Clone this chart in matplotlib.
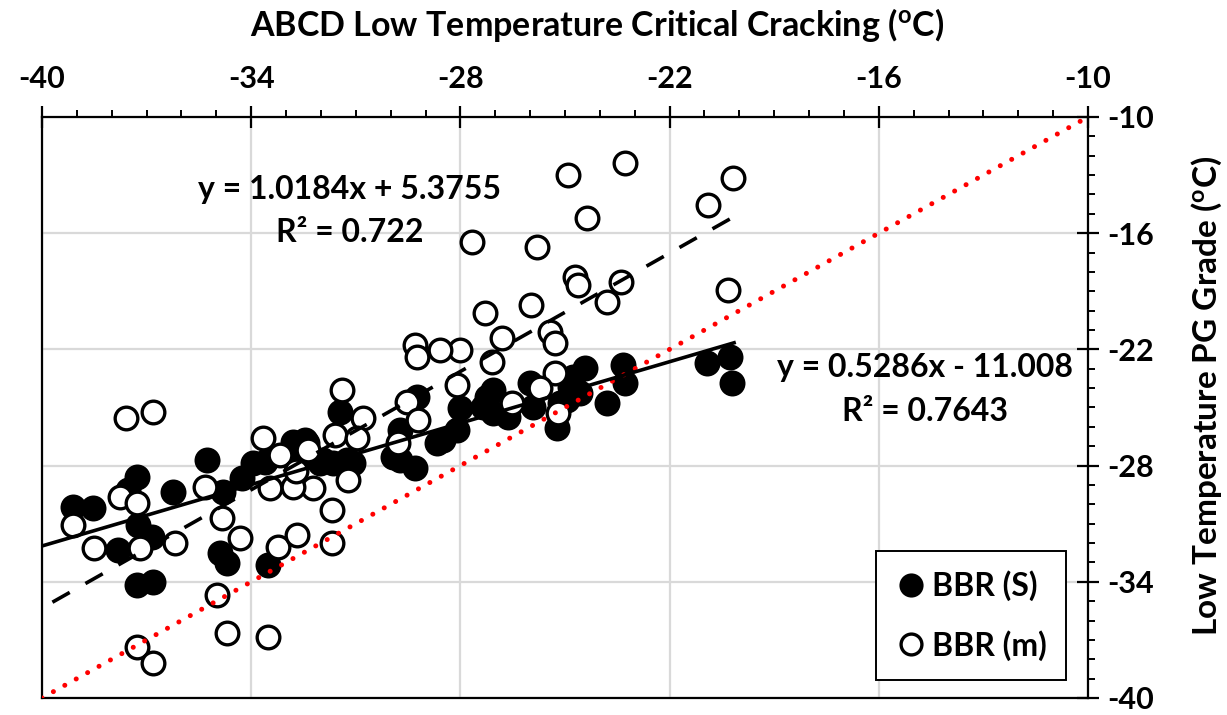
import matplotlib
matplotlib.use("Agg")
import matplotlib.pyplot as plt
from matplotlib.ticker import MultipleLocator
import numpy as np

plt.rcParams['font.family'] = ['Lato', 'DejaVu Sans']
plt.rcParams['font.weight'] = 'bold'
plt.rcParams['axes.labelweight'] = 'bold'
plt.rcParams['axes.unicode_minus'] = False
plt.rcParams['mathtext.fontset'] = 'custom'
plt.rcParams['mathtext.rm'] = 'Lato:bold'
plt.rcParams['mathtext.it'] = 'Lato:bold'
plt.rcParams['mathtext.bf'] = 'Lato:bold'

# BBR (S) - filled
s_x = [-39.11, -38.54, -37.28, -37.53, -36.24, -35.27, -37.25, -36.85, -37.82, -37.28,
       -36.82, -34.90, -34.69, -34.26, -34.81, -33.52, -33.95, -33.61, -32.80, -32.46,
       -32.60, -31.94, -31.25, -31.45, -31.08, -29.93, -29.25, -29.73, -28.67, -29.73,
       -29.30, -28.01, -28.10, -27.24, -27.07, -26.64, -32.40, -32.03, -31.66, -28.50,
       -27.35, -27.07, -26.00, -25.92, -25.23, -24.94, -24.57, -24.77, -24.43, -23.34,
       -23.28, -23.80, -24.86, -25.14, -20.93, -20.27, -20.21]
s_y = [-30.13, -30.19, -28.59, -29.26, -29.36, -27.71, -31.06, -31.68, -32.35, -34.16,
       -34.01, -32.51, -33.03, -28.64, -29.36, -33.13, -27.86, -27.81, -26.78, -26.68,
       -27.71, -27.71, -27.71, -25.23, -27.86, -27.55, -24.46, -26.16, -26.83, -27.71,
       -28.12, -25.02, -26.16, -24.46, -25.28, -25.49, -26.83, -27.86, -27.86, -26.68,
       -24.97, -24.09, -23.73, -24.97, -26.06, -24.61, -24.25, -23.42, -22.96, -22.80,
       -23.73, -24.77, -23.94, -24.77, -22.70, -22.39, -23.73]

# BBR (m) - open
m_x = [-24.92, -23.28, -20.18, -20.90, -27.67, -25.80, -24.37, -20.33, -24.71, -24.63,
       -23.40, -23.80, -25.98, -27.30, -26.81, -25.43, -25.29, -28.01, -28.59, -29.30,
       -29.25, -27.09, -25.29, -25.72, -28.10, -26.52, -25.20, -29.53, -29.22, -30.79,
       -31.40, -31.60, -30.97, -33.66, -33.17, -32.37, -29.79, -31.22, -32.23, -31.68,
       -35.33, -33.46, -32.80, -32.72, -37.59, -36.82, -39.11, -38.51, -37.76, -37.28,
       -37.19, -36.19, -34.84, -34.32, -33.23, -32.69, -31.68, -34.98, -34.69, -33.52,
       -37.28, -36.82]
m_y = [-12.99, -12.37, -13.15, -14.54, -16.45, -16.71, -15.21, -18.93, -18.26, -18.67,
       -18.52, -19.55, -19.71, -20.12, -21.41, -21.10, -21.67, -22.03, -22.03, -21.77,
       -22.39, -22.65, -23.22, -23.99, -23.84, -24.77, -25.28, -24.71, -25.64, -25.54,
       -24.09, -26.42, -26.57, -26.57, -27.45, -27.19, -26.83, -28.74, -29.15, -30.29,
       -29.10, -29.15, -29.10, -28.28, -25.54, -25.23, -31.06, -32.25, -29.62, -29.93,
       -32.25, -31.99, -30.70, -31.74, -32.20, -31.58, -31.99, -34.68, -36.64, -36.85,
       -37.36, -38.19]

# trendlines as printed on the chart
s_fit = (0.5286, -11.008)
m_fit = (1.0184, 5.3755)
s_range = (-40.0, -20.15)
m_range = (-39.7, -20.2)

fig = plt.figure(figsize=(12.27, 7.15), dpi=100)
ax = fig.add_axes([0.0342, 0.0238, 0.8525, 0.8126])

ms = 16.3
mew = 2.4
ax.plot(s_x, s_y, 'o', ms=ms, mfc='black', mec='black', mew=mew, zorder=3, label='BBR (S)')
ax.plot(m_x, m_y, 'o', ms=ms, mfc='white', mec='black', mew=mew, zorder=4, label='BBR (m)')

# 1:1 line
ax.plot([-40, -10], [-40, -10], color='red', lw=3.6, linestyle=(0, (0.01, 2.6)),
        dash_capstyle='round', zorder=5)

xs = np.array(s_range)
ax.plot(xs, s_fit[0] * xs + s_fit[1], color='black', lw=2.6, zorder=6)
xm = np.array(m_range)
ax.plot(xm, m_fit[0] * xm + m_fit[1], color='black', lw=2.6, linestyle=(0, (5.5, 5)), zorder=6)

ax.text(-31.17, -13.77, 'y = 1.0184x + 5.3755', fontsize=23, ha='center', va='center')
ax.text(-31.17, -15.94, 'R² = 0.722', fontsize=23, ha='center', va='center')
ax.text(-14.68, -22.91, 'y = 0.5286x - 11.008', fontsize=23, ha='center', va='center')
ax.text(-14.68, -25.23, 'R² = 0.7643', fontsize=23, ha='center', va='center')

ax.set_xlim(-40, -10)
ax.set_ylim(-40, -10)
ax.xaxis.tick_top()
ax.yaxis.tick_right()
ax.xaxis.set_label_position('top')
ax.yaxis.set_label_position('right')
ax.set_xticks(np.arange(-40, -9, 6))
ax.set_yticks(np.arange(-40, -9, 6))
ax.xaxis.set_minor_locator(MultipleLocator(1))
ax.yaxis.set_minor_locator(MultipleLocator(1))
ax.tick_params(which='major', direction='inout', length=16, width=1.6, labelsize=22, pad=9)
ax.tick_params(which='minor', direction='out', length=5, width=1.4)
ax.tick_params(axis='y', which='major', pad=6)
for lab in ax.get_xticklabels() + ax.get_yticklabels():
    lab.set_fontweight('bold')
ax.grid(True, which='major', color='#d9d9d9', lw=1.6, zorder=0)
ax.set_axisbelow(True)
for sp in ax.spines.values():
    sp.set_color('black')
    sp.set_linewidth(1.6)

ax.set_xlabel('ABCD Low Temperature Critical Cracking ($^{\\mathrm{o}}$C)', fontsize=24.5,
              fontweight='bold')
ax.set_ylabel('Low Temperature PG Grade ($^{\\mathrm{o}}$C)', fontsize=24,
              fontweight='bold')
ax.xaxis.set_label_coords(0.531, 1.14)
ax.yaxis.set_label_coords(1.097, 0.52)

leg = ax.legend(loc='lower right', bbox_to_anchor=(0.979, 0.031), borderaxespad=0,
                fontsize=23, frameon=True, fancybox=False, edgecolor='black', framealpha=1,
                handletextpad=0.15, labelspacing=0.9, borderpad=0.6, markerscale=0.92,
                handlelength=1.0)
leg.get_frame().set_linewidth(1.4)
for t in leg.get_texts():
    t.set_fontweight('bold')

fig.savefig('out.png', dpi=100)
